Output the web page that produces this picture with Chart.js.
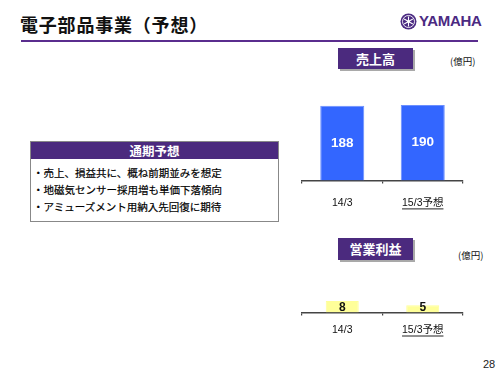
<!DOCTYPE html>
<html><head><meta charset="utf-8">
<script src="https://cdn.jsdelivr.net/npm/chart.js@4/dist/chart.umd.min.js"></script>
<style>
html,body{margin:0;padding:0;background:#fff;}
body{width:500px;height:375px;position:relative;overflow:hidden;font-family:"Noto Sans CJK JP","Liberation Sans",sans-serif;}
.abs{position:absolute;}
#title{left:20px;top:11px;font-size:18px;font-weight:bold;color:#111;white-space:nowrap;letter-spacing:0.8px;}
#rule{left:21px;top:40px;width:457px;height:2px;background:#5a2d8e;}
#logotext{left:419px;top:12px;font-family:"Liberation Sans",sans-serif;font-weight:bold;font-size:15px;color:#4b2a82;letter-spacing:-0.3px;}
.tag{background:#4b2a7e;color:#fff;font-weight:bold;font-size:13px;text-align:center;box-shadow:2px 2px 0 #a9a9a9;}
#tag1{left:338px;top:48px;width:75px;height:21px;line-height:21px;}
#tag2{left:338px;top:238px;width:75px;height:22px;line-height:22px;}
.unit{font-size:9.5px;color:#111;white-space:nowrap;}
#unit1{left:450px;top:54px;}
#unit2{left:458px;top:248px;}
#box{left:30px;top:141px;width:247px;height:79px;border:1px solid #888;background:#fff;}
#boxhead{left:0;top:0;width:247px;height:17px;background:#4b2a7e;color:#fff;font-weight:bold;font-size:12.5px;text-align:center;line-height:17px;}
.line{left:2px;font-size:10.5px;color:#000;white-space:nowrap;-webkit-text-stroke:0.2px #000;}
#page{left:483px;top:358px;font-family:"Liberation Sans",sans-serif;font-size:11px;color:#222;}
#c1{left:290px;top:85px;}
#c2{left:290px;top:281px;}
</style></head><body>
<div id="title" class="abs">電子部品事業（予想）</div>
<div id="rule" class="abs"></div>
<svg class="abs" style="left:400px;top:13px" width="17" height="17" viewBox="0 0 17 17">
<circle cx="8.5" cy="8.5" r="8" fill="#4b2a82"/>
<circle cx="8.5" cy="8.5" r="6" fill="none" stroke="#fff" stroke-width="0.9"/>
<g stroke="#fff" stroke-width="1.1">
<line x1="8.5" y1="3.5" x2="8.5" y2="13.5"/>
<line x1="4.2" y1="6" x2="12.8" y2="11"/>
<line x1="4.2" y1="11" x2="12.8" y2="6"/>
</g>
<circle cx="8.5" cy="8.5" r="1.5" fill="#fff"/>
</svg>
<div id="logotext" class="abs">YAMAHA</div>
<div id="tag1" class="abs tag">売上高</div>
<div id="unit1" class="abs unit">(億円)</div>
<div id="tag2" class="abs tag">営業利益</div>
<div id="unit2" class="abs unit">(億円)</div>
<div id="box" class="abs">
<div id="boxhead" class="abs">通期予想</div>
<div class="abs line" style="top:23px">・売上、損益共に、概ね前期並みを想定</div>
<div class="abs line" style="top:40px">・地磁気センサー採用増も単価下落傾向</div>
<div class="abs line" style="top:57px">・アミューズメント用納入先回復に期待</div>
</div>
<div id="page" class="abs">28</div>
<canvas id="c1" class="abs" width="190" height="137"></canvas>
<canvas id="c2" class="abs" width="190" height="63"></canvas>
<script>
const categories = ["14/3", "15/3予想"];
const salesValues = [188, 190];
const profitValues = [8, 5];
const salesMax = 240;
const profitMax = 22;

const labelPlugin = {
  id: 'barLabels',
  afterDatasetsDraw(chart, args, opts) {
    const ctx = chart.ctx;
    const meta = chart.getDatasetMeta(0);
    const data = chart.data.datasets[0].data;
    ctx.save();
    ctx.font = opts.font;
    ctx.fillStyle = opts.color;
    ctx.textAlign = 'center';
    ctx.textBaseline = 'middle';
    meta.data.forEach((bar, i) => {
      const y = opts.mode === 'center' ? (bar.y + bar.base) / 2 : bar.base - opts.offset;
      ctx.fillText(String(data[i]), bar.x, y);
    });
    ctx.restore();
  }
};
const underlinePlugin = {
  id: 'underline',
  afterDraw(chart, args, opts) {
    const sc = chart.scales.x;
    const ctx = chart.ctx;
    ctx.save();
    ctx.font = opts.font;
    (opts.indices || []).forEach(i => {
      const w = ctx.measureText(chart.data.labels[i]).width;
      const x = sc.getPixelForTick(i);
      const y = sc.top + opts.tickLen + opts.pad + opts.under;
      ctx.strokeStyle = '#222';
      ctx.lineWidth = 1;
      ctx.beginPath();
      ctx.moveTo(x - w / 2, y + 0.5);
      ctx.lineTo(x + w / 2, y + 0.5);
      ctx.stroke();
    });
    ctx.restore();
  }
};

function makeChart(id, values, max, color, border, barPct, pad, labelOpts) {
  const tickFont = {family: '"Liberation Sans","Noto Sans CJK JP",sans-serif', size: 10.5};
  return new Chart(document.getElementById(id), {
    type: 'bar',
    data: {labels: categories, datasets: [{data: values, backgroundColor: color, borderColor: border, borderWidth: 1, borderSkipped: 'bottom', categoryPercentage: 1, barPercentage: barPct}]},
    options: {
      responsive: false, animation: false, devicePixelRatio: 1,
      layout: {padding: {left: 12, right: 17, top: 0, bottom: 0}},
      plugins: {legend: {display: false}, tooltip: {enabled: false}, title: {display: false},
        barLabels: labelOpts,
        underline: {indices: [1], font: '10.5px "Liberation Sans","Noto Sans CJK JP",sans-serif', tickLen: 3, pad: pad, under: 12}},
      scales: {
        x: {grid: {offset: true, drawOnChartArea: false, drawTicks: true, tickLength: 3, color: '#444', lineWidth: 1.2},
            border: {display: true, color: '#444', width: 1.5},
            ticks: {color: '#111', font: tickFont, padding: pad, maxRotation: 0}},
        y: {display: false, min: 0, max: max}
      }
    },
    plugins: [labelPlugin, underlinePlugin]
  });
}
makeChart('c1', salesValues, salesMax, '#3366ff', '#6b8fff', 0.547, 13,
  {mode: 'center', font: 'bold 13.5px "Liberation Sans Narrow","Liberation Sans",sans-serif', color: '#fff'});
makeChart('c2', profitValues, profitMax, '#ffff99', '#ffff99', 0.41, 8,
  {mode: 'base', offset: 5, font: 'bold 12px "Liberation Sans",sans-serif', color: '#111'});
</script>
</body></html>
